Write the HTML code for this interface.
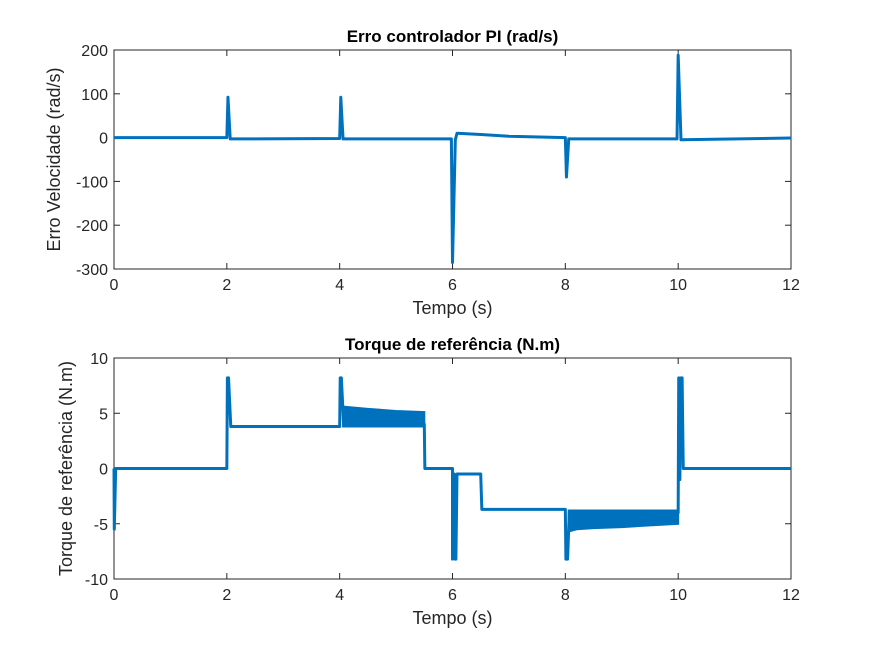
<!DOCTYPE html>
<html><head><meta charset="utf-8"><style>
body{margin:0;background:#fff;}
svg{font-family:"Liberation Sans",Arial,sans-serif;}
</style></head><body>
<svg id="fig" width="875" height="656"></svg>
<script>
// Top chart data
const topT=[0,2,2.02,2.06,4,4.02,4.06,5.98,6.0,6.05,6.08,6.5,7,8,8.02,8.06,9.98,10.0,10.05,12];
const topV=[0,0,92,-3,-2,92,-3,-3,-285,-5,10,7,3,0,-90,-3,-3,188,-5,-1];
const topXTicks=[0,2,4,6,8,10,12];
const topYTicks=[-300,-200,-100,0,100,200];
// Bottom chart data
const botT=[0,0.005,0.03,2,2.01,2.03,2.07,4,4.01,4.03,4.07,5.5,5.51,6,6.0,6.03,6.045,6.06,6.08,6.5,6.52,8,8.01,8.04,8.07,10,10.01,10.03,10.05,10.07,10.09,10.11,12];
const botV=[0,-5.5,0,0,8.2,8.2,3.8,3.8,8.2,8.2,4,4,0,0,-8.2,-0.5,-8.2,-8.2,-0.5,-0.5,-3.7,-3.7,-8.2,-8.2,-4,-4,8.2,-1,8.2,8.2,0,0,0];
const band1T=[4.06,4.5,5,5.5];
const band1Hi=[5.6,5.4,5.2,5.1];
const band1Lo=[3.8,3.8,3.8,3.8];
const band2T=[8.06,8.2,8.5,9,9.5,10];
const band2Hi=[-3.8,-3.8,-3.8,-3.8,-3.8,-3.8];
const band2Lo=[-5.7,-5.5,-5.4,-5.3,-5.15,-5.0];
const botXTicks=[0,2,4,6,8,10,12];
const botYTicks=[-10,-5,0,5,10];

const NS="http://www.w3.org/2000/svg";
const svg=document.getElementById('fig');
function mk(tag,attrs,parent){const e=document.createElementNS(NS,tag);for(const k in attrs)e.setAttribute(k,attrs[k]);(parent||svg).appendChild(e);return e;}
const C='#0072BD';
function panel(cfg){
  const {x0,x1,y0,y1,xmin,xmax,ymin,ymax}=cfg;
  const sx=v=>x0+(v-xmin)/(xmax-xmin)*(x1-x0);
  const sy=v=>y1-(v-ymin)/(ymax-ymin)*(y1-y0);
  const g=mk('g',{});
  
  
  const bg=mk('rect',{x:x0,y:y0,width:x1-x0,height:y1-y0,fill:'#fff',stroke:'#262626','stroke-width':1},g);
  
  
  cfg.xTicks.forEach(t=>{
    const x=sx(t);
    mk('line',{x1:x,x2:x,y1:y1,y2:y1-6,stroke:'#262626'},g);
    mk('line',{x1:x,x2:x,y1:y0,y2:y0+6,stroke:'#262626'},g);
    const tx=mk('text',{x:x,y:y1+21,'text-anchor':'middle','font-size':16,fill:'#262626'},g);
    tx.textContent=t;
    
    
  });
  cfg.yTicks.forEach(t=>{
    const y=sy(t);
    mk('line',{x1:x0,x2:x0+6,y1:y,y2:y,stroke:'#262626'},g);
    mk('line',{x1:x1,x2:x1-6,y1:y,y2:y,stroke:'#262626'},g);
    const tx=mk('text',{x:x0-6,y:y+6,'text-anchor':'end','font-size':16,fill:'#262626'},g);
    tx.textContent=t;
    
    
  });
  (cfg.bands||[]).forEach(b=>{
    let pts=b.t.map((t,i)=>sx(t)+','+sy(b.hi[i]));
    pts=pts.concat(b.t.slice().reverse().map((t,i)=>sx(t)+','+sy(b.lo[b.t.length-1-i])));
    const p=mk('polygon',{points:pts.join(' '),fill:C,stroke:C,'stroke-width':2},g);
    
    
  });
  const line=mk('polyline',{points:cfg.t.map((t,i)=>sx(t)+','+sy(cfg.v[i])).join(' '),fill:'none',stroke:C,'stroke-width':3,'stroke-linejoin':'round'},g);
  
  
  const ti=mk('text',{x:(x0+x1)/2,y:y0-8,'text-anchor':'middle','font-size':17,'font-weight':'bold',fill:'#000'},g);
  ti.textContent=cfg.title;
  
  
  const xl=mk('text',{x:(x0+x1)/2,y:y1+45,'text-anchor':'middle','font-size':18,fill:'#262626'},g);
  xl.textContent=cfg.xlabel;
  
  
  const cy=(y0+y1)/2;
  const yl=mk('text',{x:cfg.ylx,y:cy,'text-anchor':'middle','font-size':18,fill:'#262626',transform:`rotate(-90 ${cfg.ylx} ${cy})`},g);
  yl.textContent=cfg.ylabel;
  
  
}
panel({name:'error-chart',x0:114,x1:791,y0:50,y1:269,xmin:0,xmax:12,ymin:-300,ymax:200,xTicks:topXTicks,yTicks:topYTicks,t:topT,v:topV,title:'Erro controlador PI (rad/s)',xlabel:'Tempo (s)',ylabel:'Erro Velocidade (rad/s)',ylx:60});
panel({name:'torque-chart',x0:114,x1:791,y0:358,y1:579,xmin:0,xmax:12,ymin:-10,ymax:10,xTicks:botXTicks,yTicks:botYTicks,t:botT,v:botV,bands:[{t:band1T,hi:band1Hi,lo:band1Lo},{t:band2T,hi:band2Hi,lo:band2Lo}],title:'Torque de referência (N.m)',xlabel:'Tempo (s)',ylabel:'Torque de referência (N.m)',ylx:72});
</script>
</body></html>
